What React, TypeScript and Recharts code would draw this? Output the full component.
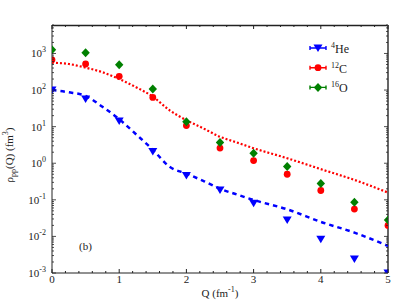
import { ComposedChart, XAxis, YAxis, Line, Scatter } from "recharts";

// measured points
const qPoints = [0, 0.5, 1, 1.5, 2, 2.5, 3, 3.5, 4, 4.5, 5];
const he4 = [100, 57, 14.3, 2.1, 0.46, 0.187, 0.081, 0.028, 0.0084, 0.0024, 0.001];
const c12 = [670, 515, 238, 63, 10.7, 2.6, 1.18, 0.5, 0.18, 0.056, 0.02];
const o16 = [1260, 1050, 490, 107, 13.7, 3.7, 1.88, 0.81, 0.28, 0.086, 0.028];

// fitted curves
const qFit = [0, 0.25, 0.5, 0.75, 1, 1.25, 1.5, 1.75, 2, 2.25, 2.5, 2.75, 3, 3.5, 4, 4.5, 5];
const heFit = [100, 87, 69, 35, 16, 6.2, 2.35, 0.8, 0.52, 0.33, 0.2, 0.14, 0.099, 0.055, 0.025, 0.0127, 0.0055];
const cFit = [560, 515, 410, 307, 200, 120, 66, 28, 15, 9, 5.3, 3.7, 2.57, 1.37, 0.69, 0.35, 0.158];

const xMajor = [0, 1, 2, 3, 4, 5];
const xMinor = [0.2, 0.4, 0.6, 0.8];
const yMajor = [0.001, 0.01, 0.1, 1, 10, 100, 1000];
const yMinor = [2, 3, 4, 5, 6, 7, 8, 9];
const Y_MAX = 6000;

const FONT = "'Liberation Serif', 'DejaVu Serif', serif";
const AXIS = "#222";

// chart layout
const W = 399;
const H = 308;
const M = { top: 25, right: 11, bottom: 35, left: 52 };
const PLOT_W = W - M.left - M.right;
const PLOT_H = H - M.top - M.bottom;

const xTicks = xMajor.concat(...xMajor.slice(0, -1).map((m) => xMinor.map((f) => +(m + f).toFixed(1))));
const yTicks = yMajor.concat(
  ...yMajor.map((d) => yMinor.map((f) => +(d * f).toPrecision(3)).filter((v) => v <= Y_MAX))
);
const isMajorY = (v: number) => yMajor.some((d) => Math.abs(d - v) / d < 1e-6);

const toPts = (qs: number[], vs: number[]) => qs.map((q, i) => ({ q, v: vs[i] }));

const series = [
  { name: "He", mass: "4", color: "#0000ff", data: toPts(qPoints, he4), shape: "tri" },
  { name: "C", mass: "12", color: "#ff0000", data: toPts(qPoints, c12), shape: "circle" },
  { name: "O", mass: "16", color: "#008000", data: toPts(qPoints, o16), shape: "diamond" },
];

function Marker({ cx, cy, kind, color }: any) {
  if (kind === "tri") {
    return <polygon points={`${cx - 4.5},${cy - 3.5} ${cx + 4.5},${cy - 3.5} ${cx},${cy + 4}`} fill={color} />;
  }
  if (kind === "diamond") {
    return <polygon points={`${cx},${cy - 4.5} ${cx + 4.2},${cy} ${cx},${cy + 4.5} ${cx - 4.2},${cy}`} fill={color} />;
  }
  return <circle cx={cx} cy={cy} r={3.4} fill={color} />;
}

// bottom ticks, mirrored onto the top edge of the frame
function XTick({ x, y, payload }: any) {
  const major = Number.isInteger(payload.value);
  const len = major ? 4 : 2;
  return (
    <g>
      <path d={`M${x},${y}V${y - len}M${x},${y - PLOT_H}V${y - PLOT_H + len}`} stroke={AXIS} fill="none" />
      {major && (
        <text x={x} y={y + 10} textAnchor="middle" fontFamily={FONT} fontSize={11} fill="#222">
          {payload.value}
        </text>
      )}
    </g>
  );
}

// left ticks, mirrored onto the right edge of the frame
function YTick({ x, y, payload }: any) {
  const major = isMajorY(payload.value);
  const len = major ? 4 : 2;
  const exp = Math.round(Math.log10(payload.value));
  return (
    <g>
      <path d={`M${x},${y}H${x + len}M${x + PLOT_W},${y}H${x + PLOT_W - len}`} stroke={AXIS} strokeWidth={0.8} fill="none" />
      {major && (
        <text x={x - 6} y={y + 4} textAnchor="end" fontFamily={FONT} fontSize={11} fill="#222">
          10
          <tspan dy={-5} fontSize={8}>
            {exp}
          </tspan>
        </text>
      )}
    </g>
  );
}

function YTitle({ viewBox }: any) {
  const cx = viewBox.x + 13;
  const cy = viewBox.y + viewBox.height / 2 + 6;
  return (
    <text
      x={cx}
      y={cy}
      transform={`rotate(-90 ${cx} ${cy})`}
      textAnchor="middle"
      fontFamily={FONT}
      fontSize={11}
      fill="#222"
    >
      ρ
      <tspan dy={3} fontSize={8}>pp</tspan>
      <tspan dy={-3}>(Q) (fm</tspan>
      <tspan dy={-5} fontSize={8}>3</tspan>
      <tspan dy={5}>)</tspan>
    </text>
  );
}

function XTitle({ viewBox }: any) {
  const cx = viewBox.x + viewBox.width / 2;
  return (
    <text x={cx} y={viewBox.y + 24} textAnchor="middle" fontFamily={FONT} fontSize={11} fill="#222">
      Q (fm
      <tspan dy={-5} fontSize={8}>-1</tspan>
      <tspan dy={5}>)</tspan>
    </text>
  );
}

function LegendBox({ left, top }: { left: number; top: number }) {
  return (
    <g transform={`translate(${left},${top})`}>
      {series.map((s, i) => {
        const y = 10 + i * 19.7;
        return (
          <g key={s.name}>
            <path d={`M5,${y}H21M5,${y - 2}V${y + 2}M21,${y - 2}V${y + 2}`} stroke={s.color} strokeWidth={1.4} fill="none" />
            <Marker cx={13} cy={y} kind={s.shape} color={s.color} />
            <text x={26} y={y + 5} fontFamily={FONT} fontSize={12} fill="#222">
              <tspan dy={-5} fontSize={8}>{s.mass}</tspan>
              <tspan dy={5}>{s.name}</tspan>
            </text>
          </g>
        );
      })}
    </g>
  );
}

function Frame() {
  return (
    <g>
      <path d={`M${M.left},${M.top + 0.5}H${M.left + PLOT_W}`} stroke={AXIS} strokeWidth={1.3} fill="none" />
      <path d={`M${M.left + PLOT_W},${M.top}V${M.top + PLOT_H}`} stroke="#666" strokeWidth={2} fill="none" />
    </g>
  );
}

export default function App() {
  return (
    <div style={{ position: "absolute", left: 0, top: 0 }}>
      <ComposedChart width={W} height={H} margin={{ top: M.top, right: M.right, bottom: 0, left: 0 }}>
        <XAxis
          dataKey="q"
          type="number"
          domain={[0, 5]}
          ticks={xTicks}
          interval={0}
          height={M.bottom}
          tickSize={0}
          tickMargin={0}
          tick={<XTick />}
          axisLine={{ stroke: AXIS }}
          allowDataOverflow
          label={<XTitle />}
        />
        <YAxis
          type="number"
          scale="log"
          domain={[0.001, Y_MAX]}
          ticks={yTicks}
          interval={0}
          width={M.left}
          tickSize={0}
          tickMargin={0}
          tick={<YTick />}
          axisLine={{ stroke: AXIS }}
          allowDataOverflow
          label={<YTitle />}
        />
        <Line
          data={toPts(qFit, cFit)}
          dataKey="v"
          type="monotone"
          stroke="#ff0000"
          strokeWidth={2.2}
          strokeDasharray="2 2"
          dot={false}
          isAnimationActive={false}
          legendType="none"
        />
        <Line
          data={toPts(qFit, heFit)}
          dataKey="v"
          type="monotone"
          stroke="#0000ff"
          strokeWidth={2.5}
          strokeDasharray="4.5 4"
          dot={false}
          isAnimationActive={false}
          legendType="none"
        />
        {series.map((s) => (
          <Scatter
            key={s.name}
            name={s.name}
            data={s.data}
            dataKey="v"
            fill={s.color}
            isAnimationActive={false}
            shape={(p: any) => <Marker cx={p.cx} cy={p.cy} kind={s.shape} color={s.color} />}
          />
        ))}
        <Frame />
        <text x={79} y={250} fontFamily={FONT} fontSize={11} fill="#222">
          (b)
        </text>
        <LegendBox left={305} top={38} />
      </ComposedChart>
    </div>
  );
}
